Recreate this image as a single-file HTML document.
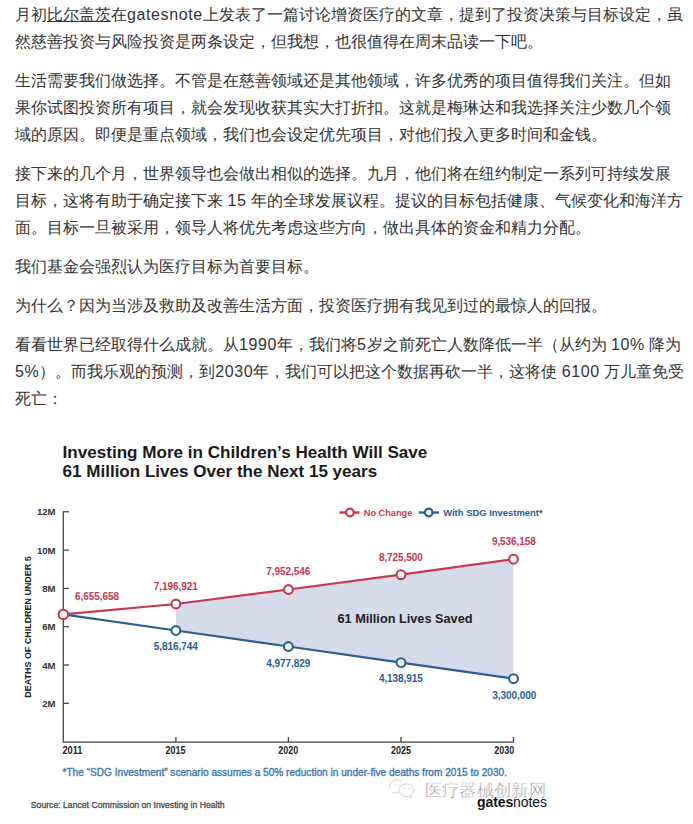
<!DOCTYPE html>
<html><head><meta charset="utf-8">
<style>
html,body{margin:0;padding:0;background:#fff;}
body{width:693px;height:824px;overflow:hidden;position:relative;font-family:"Liberation Sans",sans-serif;}
.txt{position:absolute;left:15px;top:1px;width:678px;color:#333;font-size:16px;line-height:27px;white-space:nowrap;}
.txt p{margin:0 0 12px 0;}
.l{letter-spacing:0.6px;}
.u{text-decoration:underline;text-underline-offset:1px;}
svg{position:absolute;left:0;top:0;}
svg text{font-family:"Liberation Sans",sans-serif;}
</style></head><body>
<div class="txt">
<p>月初<span class="u">比尔盖茨</span>在<span class="l">gatesnote</span>上发表了一篇讨论增资医疗的文章，提到了投资决策与目标设定，虽<br>然慈善投资与风险投资是两条设定，但我想，也很值得在周末品读一下吧。</p>
<p>生活需要我们做选择。不管是在慈善领域还是其他领域，许多优秀的项目值得我们关注。但如<br>果你试图投资所有项目，就会发现收获其实大打折扣。这就是梅琳达和我选择关注少数几个领<br>域的原因。即便是重点领域，我们也会设定优先项目，对他们投入更多时间和金钱。</p>
<p>接下来的几个月，世界领导也会做出相似的选择。九月，他们将在纽约制定一系列可持续发展<br>目标，这将有助于确定接下来 <span class="l">15</span> 年的全球发展议程。提议的目标包括健康、气候变化和海洋方<br>面。目标一旦被采用，领导人将优先考虑这些方向，做出具体的资金和精力分配。</p>
<p>我们基金会强烈认为医疗目标为首要目标。</p>
<p>为什么？因为当涉及救助及改善生活方面，投资医疗拥有我见到过的最惊人的回报。</p>
<p>看看世界已经取得什么成就。从<span class="l">1990</span>年，我们将<span class="l">5</span>岁之前死亡人数降低一半（从约为 <span class="l">10%</span> 降为<br><span class="l">5%</span>）。而我乐观的预测，到<span class="l">2030</span>年，我们可以把这个数据再砍一半，这将使 <span class="l">6100</span> 万儿童免受<br>死亡：</p>
</div>
<svg width="693" height="824" viewBox="0 0 693 824">
<polygon fill="#d5dbea" points="175.9,604.0 288.4,589.5 401.0,574.7 513.5,559.2 513.5,678.7 401.0,662.6 288.4,646.5 175.9,630.5"/>
<path d="M63.3 511.3V742.2H513.5V737" fill="none" stroke="#404040" stroke-width="1.25"/>
<path d="M63.3 511.8H69" stroke="#404040" stroke-width="1.25"/>
<text x="55.6" y="515.3" text-anchor="end" font-size="9.6" font-weight="bold" fill="#333">12M</text>
<path d="M63.3 550.1H69" stroke="#404040" stroke-width="1.25"/>
<text x="55.6" y="553.6" text-anchor="end" font-size="9.6" font-weight="bold" fill="#333">10M</text>
<path d="M63.3 588.4H69" stroke="#404040" stroke-width="1.25"/>
<text x="55.6" y="591.9" text-anchor="end" font-size="9.6" font-weight="bold" fill="#333">8M</text>
<path d="M63.3 626.7H69" stroke="#404040" stroke-width="1.25"/>
<text x="55.6" y="630.2" text-anchor="end" font-size="9.6" font-weight="bold" fill="#333">6M</text>
<path d="M63.3 665.0H69" stroke="#404040" stroke-width="1.25"/>
<text x="55.6" y="668.5" text-anchor="end" font-size="9.6" font-weight="bold" fill="#333">4M</text>
<path d="M63.3 703.3H69" stroke="#404040" stroke-width="1.25"/>
<text x="55.6" y="706.8" text-anchor="end" font-size="9.6" font-weight="bold" fill="#333">2M</text>
<path d="M175.9 742.2V737" stroke="#404040" stroke-width="1.3"/>
<path d="M288.4 742.2V737" stroke="#404040" stroke-width="1.3"/>
<path d="M401.0 742.2V737" stroke="#404040" stroke-width="1.3"/>
<text x="62.4" y="754.2" text-anchor="start" font-size="10.3" font-weight="bold" fill="#222" textLength="20" lengthAdjust="spacingAndGlyphs">2011</text>
<text x="175.5" y="754.2" text-anchor="middle" font-size="10.3" font-weight="bold" fill="#222" textLength="20" lengthAdjust="spacingAndGlyphs">2015</text>
<text x="288.3" y="754.2" text-anchor="middle" font-size="10.3" font-weight="bold" fill="#222" textLength="20" lengthAdjust="spacingAndGlyphs">2020</text>
<text x="400.9" y="754.2" text-anchor="middle" font-size="10.3" font-weight="bold" fill="#222" textLength="20" lengthAdjust="spacingAndGlyphs">2025</text>
<text x="514.3" y="754.2" text-anchor="end" font-size="10.3" font-weight="bold" fill="#222" textLength="20" lengthAdjust="spacingAndGlyphs">2030</text>
<polyline fill="none" stroke="#c63950" stroke-width="2.2" points="63.3,614.4 175.9,604.0 288.4,589.5 401.0,574.7 513.5,559.2"/>
<polyline fill="none" stroke="#2b5e93" stroke-width="2.2" points="63.3,614.4 175.9,630.5 288.4,646.5 401.0,662.6 513.5,678.7"/>
<circle cx="175.9" cy="604.0" r="4.4" fill="#fff" stroke="#c63950" stroke-width="2.1"/>
<circle cx="175.9" cy="630.5" r="4.4" fill="#fff" stroke="#2b5e93" stroke-width="2.1"/>
<circle cx="288.4" cy="589.5" r="4.4" fill="#fff" stroke="#c63950" stroke-width="2.1"/>
<circle cx="288.4" cy="646.5" r="4.4" fill="#fff" stroke="#2b5e93" stroke-width="2.1"/>
<circle cx="401.0" cy="574.7" r="4.4" fill="#fff" stroke="#c63950" stroke-width="2.1"/>
<circle cx="401.0" cy="662.6" r="4.4" fill="#fff" stroke="#2b5e93" stroke-width="2.1"/>
<circle cx="513.5" cy="559.2" r="4.4" fill="#fff" stroke="#c63950" stroke-width="2.1"/>
<circle cx="513.5" cy="678.7" r="4.4" fill="#fff" stroke="#2b5e93" stroke-width="2.1"/>
<circle cx="63.3" cy="614.4" r="4.7" fill="#fff" stroke="#c63950" stroke-width="2.1"/>
<text x="75.0" y="599.6" text-anchor="start" font-size="10" font-weight="bold" fill="#c63950" textLength="44" lengthAdjust="spacing">6,655,658</text>
<text x="175.7" y="589.8" text-anchor="middle" font-size="10" font-weight="bold" fill="#c63950" textLength="44" lengthAdjust="spacing">7,196,921</text>
<text x="288.3" y="575.2" text-anchor="middle" font-size="10" font-weight="bold" fill="#c63950" textLength="44" lengthAdjust="spacing">7,952,546</text>
<text x="400.9" y="560.9" text-anchor="middle" font-size="10" font-weight="bold" fill="#c63950" textLength="44" lengthAdjust="spacing">8,725,500</text>
<text x="513.9" y="544.8" text-anchor="middle" font-size="10" font-weight="bold" fill="#c63950" textLength="44" lengthAdjust="spacing">9,536,158</text>
<text x="175.7" y="649.9" text-anchor="middle" font-size="10" font-weight="bold" fill="#2b5e93" textLength="44" lengthAdjust="spacing">5,816,744</text>
<text x="288.3" y="667.1" text-anchor="middle" font-size="10" font-weight="bold" fill="#2b5e93" textLength="44" lengthAdjust="spacing">4,977,829</text>
<text x="400.9" y="682.1" text-anchor="middle" font-size="10" font-weight="bold" fill="#2b5e93" textLength="44" lengthAdjust="spacing">4,138,915</text>
<text x="514.3" y="698.6" text-anchor="middle" font-size="10" font-weight="bold" fill="#2b5e93" textLength="44" lengthAdjust="spacing">3,300,000</text>
<text x="337.5" y="622.5" font-size="13.4" font-weight="bold" fill="#222" textLength="135" lengthAdjust="spacingAndGlyphs">61 Million Lives Saved</text>
<text x="62.5" y="458.1" font-size="16.8" font-weight="bold" fill="#1a1a1a" textLength="364.8" lengthAdjust="spacingAndGlyphs">Investing More in Children’s Health Will Save</text>
<text x="62.5" y="476.8" font-size="16.8" font-weight="bold" fill="#1a1a1a" textLength="314.7" lengthAdjust="spacingAndGlyphs">61 Million Lives Over the Next 15 years</text>
<path d="M339.5 512.5H359.4" stroke="#c63950" stroke-width="2.4"/><circle cx="349.9" cy="512.5" r="3.8" fill="#fff" stroke="#c63950" stroke-width="2.2"/>
<text x="363.8" y="515.9" font-size="9.6" font-weight="bold" fill="#c63950" textLength="48.5" lengthAdjust="spacingAndGlyphs">No Change</text>
<path d="M418.8 512.5H439" stroke="#2b5e93" stroke-width="2.4"/><circle cx="428.7" cy="512.5" r="3.8" fill="#fff" stroke="#2b5e93" stroke-width="2.2"/>
<text x="443.2" y="515.9" font-size="9.6" font-weight="bold" fill="#2b5e93" textLength="99.4" lengthAdjust="spacingAndGlyphs">With SDG Investment*</text>
<text transform="translate(31.4 627.0) rotate(-90)" x="0" y="0" text-anchor="middle" font-size="9.6" font-weight="bold" fill="#222" textLength="141.3" lengthAdjust="spacingAndGlyphs">DEATHS OF CHILDREN UNDER 5</text>
<text x="62.5" y="776.2" font-size="10.4" fill="#3a78b0" stroke="#3a78b0" stroke-width="0.35" textLength="444.5" lengthAdjust="spacingAndGlyphs">*The “SDG Investment” scenario assumes a 50% reduction in under-five deaths from 2015 to 2030.</text>
<text x="30.8" y="807.9" font-size="8.8" fill="#4a4a4a" stroke="#4a4a4a" stroke-width="0.3" textLength="193.9" lengthAdjust="spacingAndGlyphs">Source: Lancet Commission on Investing in Health</text>
<text x="424.7" y="796" font-size="17.3" font-weight="100" fill="#8a8a8a" stroke="#fff" stroke-width="0.45" textLength="121.3" lengthAdjust="spacingAndGlyphs">医疗器械创新网</text>
<g fill="none" stroke="#cfcfcf" stroke-width="0.9"><path d="M390.5 788.5c-1.5-4 1-7.5 5-8.5c2-0.5 4 0 5.5 1"/><path d="M391.5 794.5l2.5-2.5c1.5 0.5 3 0.5 4.5 0.3"/><path d="M399 788c1-3 4.5-4.5 8-4c4 0.5 7 3.5 6.5 7c-0.3 2-1.5 3.5-3 4.5l0.8 2.2l-2.6-1.5c-1.5 0.4-3.5 0.5-5 0c-3-1-5-3.5-4.7-6.2z"/></g><g fill="#d4d4d4"><circle cx="395" cy="785" r="0.8"/><circle cx="399" cy="785" r="0.8"/><circle cx="404" cy="788.5" r="0.7"/><circle cx="409" cy="788.5" r="0.7"/></g>
<text x="477" y="806.7" font-size="14" fill="#111" letter-spacing="-0.1"><tspan font-weight="bold">gates</tspan>notes</text>
</svg>
</body></html>
